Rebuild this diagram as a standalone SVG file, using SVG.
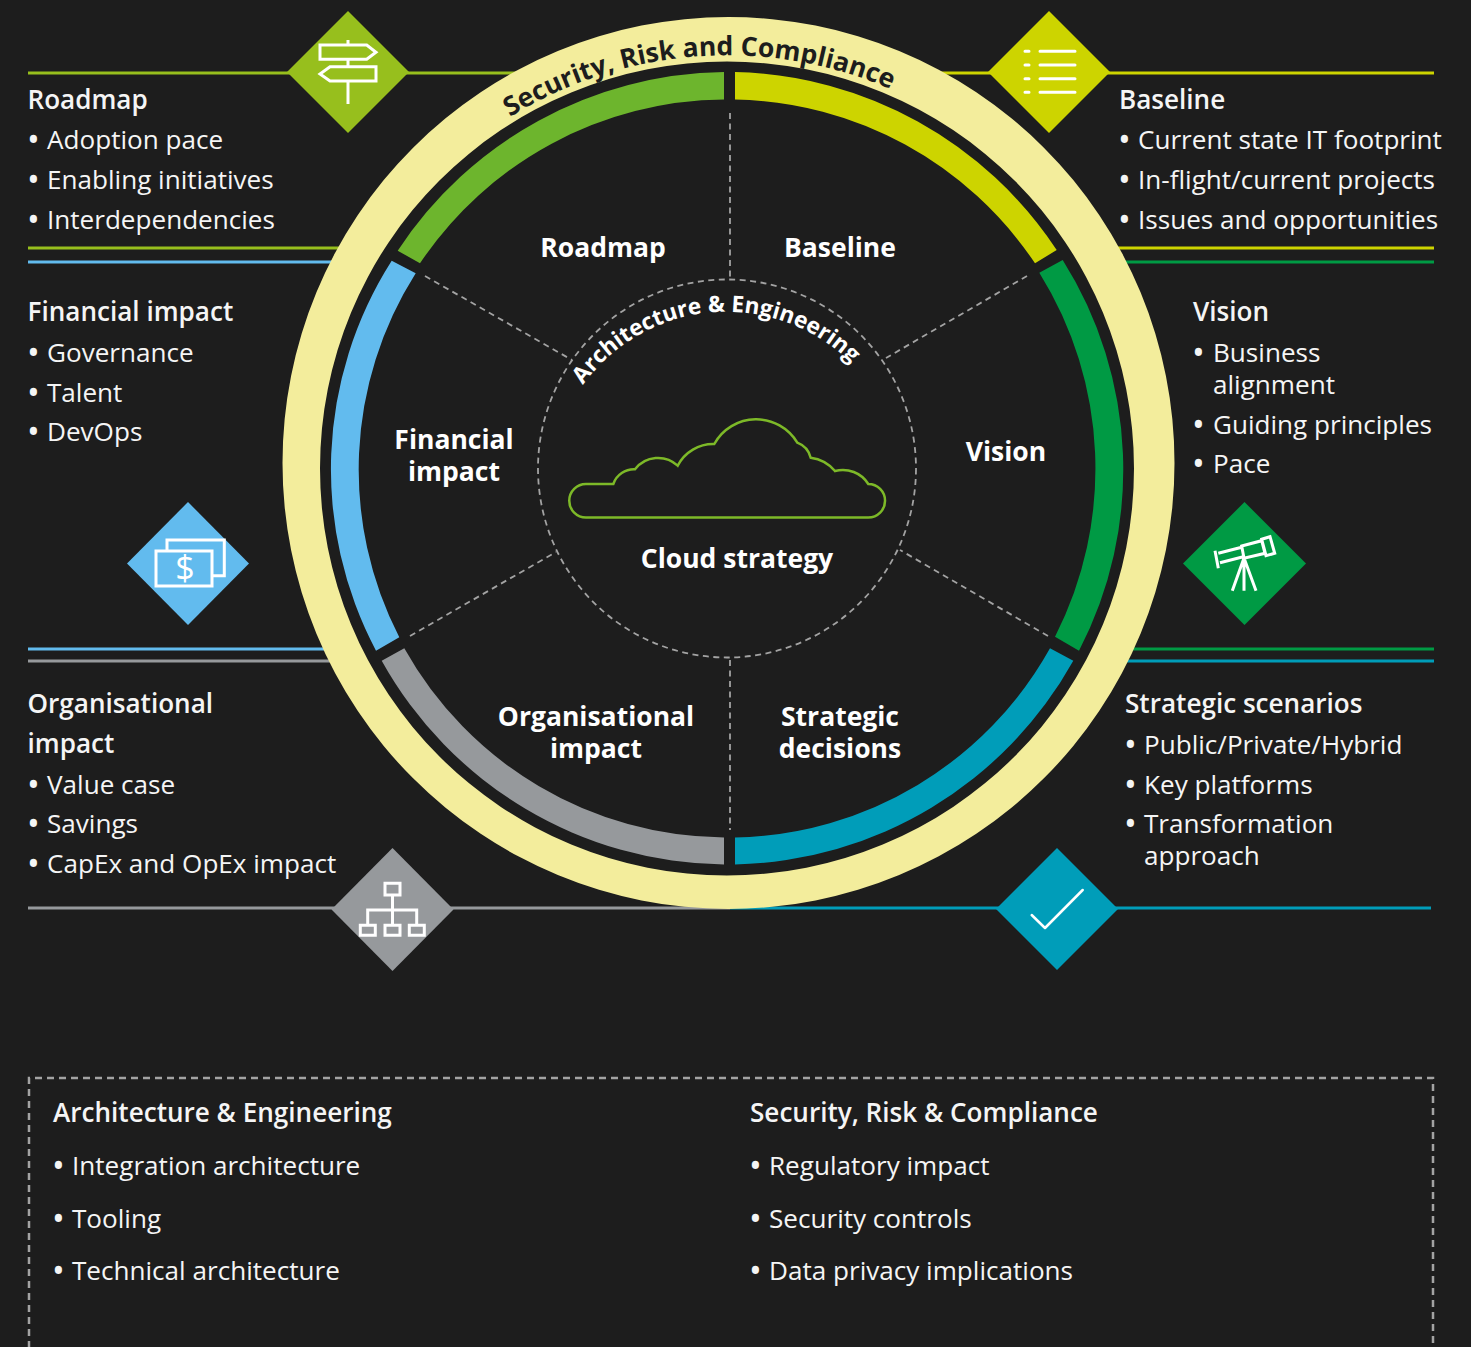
<svg xmlns="http://www.w3.org/2000/svg" width="1471" height="1347" viewBox="0 0 1471 1347">
<style>
text{font-family:"Open Sans","Noto Sans","Liberation Sans",sans-serif;fill:#f5f5f5}
.t{font-size:26.1px}
.b{font-size:34px;baseline-shift:-3px}
.h{font-size:26.1px;font-weight:600}
.c{font-size:26.5px;font-weight:700;text-anchor:middle;fill:#fff}
.i{fill:none;stroke:#fff;stroke-width:3;stroke-linejoin:miter}
.l{fill:none;stroke-width:3}
.d{fill:none;stroke:#a3a3a3;stroke-width:1.8;stroke-dasharray:6 4.5}
</style>
<defs>
<path id="arcOuter" d="M510 117A412.5 412.5 0 0 1 888 88A412.5 412.5 0 0 1 960 130"/>
<path id="arcInner" d="M583 385A177 177 0 0 1 853 365A177 177 0 0 1 880 420"/>
</defs>
<rect width="1471" height="1347" fill="#1d1d1d"/>
<g id="connectors">
<path class="l" stroke="#97bf1d" d="M28 73H520M28 248H345"/>
<path class="l" stroke="#62bbee" d="M28 262H335M28 649H335"/>
<path class="l" stroke="#96999c" d="M28 661H340M28 908H730"/>
<path class="l" stroke="#cdd400" d="M935 73H1434M1110 248H1434"/>
<path class="l" stroke="#009a44" d="M1115 262H1434M1120 649H1434"/>
<path class="l" stroke="#009db9" d="M1120 661H1434M730 908H1431"/>
</g>
<g id="outer-ring">
<path fill="#f3ed9c" fill-rule="evenodd" d="M282.500 463A446 446 0 1 0 1174.500 463A446 446 0 1 0 282.500 463ZM320 468.500A407 407 0 1 1 1134 468.500A407 407 0 1 1 320 468.500Z"/>
<text font-size="26.500" font-weight="700" style="fill:#1d1d1d"><textPath href="#arcOuter">Security, Risk and Compliance</textPath></text>
</g>
<g id="band">
<path fill="#6db52d" d="M397.700 250.700A396.500 396.500 0 0 1 724 72V99.500A369 369 0 0 0 420 263.300Z"/>
<path fill="#cdd400" d="M735 72A396.500 396.500 0 0 1 1056.700 250L1035 263.300A369 369 0 0 0 735 99.500Z"/>
<path fill="#009a44" d="M1062.700 260A392.800 392.800 0 0 1 1079 650.700L1055 636.700A369.800 369.800 0 0 0 1039.300 272.700Z"/>
<path fill="#009db9" d="M1073.300 660.700A396.500 396.500 0 0 1 735 864.500V837.500A369 369 0 0 0 1050 648.300Z"/>
<path fill="#96999c" d="M724 864.500A396.500 396.500 0 0 1 381.700 660.700L404.300 648.300A369 369 0 0 0 724 837.500Z"/>
<path fill="#62bbee" d="M376 650.700A388 388 0 0 1 391.700 260.700L415.700 273.300A366.500 366.500 0 0 0 399.300 637.300Z"/>
</g>
<g id="spokes">
<circle class="d" cx="727" cy="468.500" r="189"/>
<path class="d" d="M730 113V279M730 660V830M425 276L572 360M1027 276L886 358M410 636L556 552M1048 636L900 550"/>
</g>
<g id="center">
<path d="M586 517.500A16.700 16.700 0 0 1 586 484H613.300A22 22 0 0 1 635 469.300A29 29 0 0 1 677.700 465.700A40 40 0 0 1 714.300 444A47.900 47.900 0 0 1 797.300 442.700A22 22 0 0 1 810.700 457.700A38 38 0 0 1 835 471A30 30 0 0 1 868.300 484A16.700 16.700 0 0 1 868.300 517.500Z" fill="none" stroke="#7db928" stroke-width="2.500"/>
<text class="c" x="737" y="568">Cloud strategy</text>
<text font-size="22.700" font-weight="700" style="fill:#fff"><textPath href="#arcInner">Architecture &amp; Engineering</textPath></text>
</g>
<g id="label-roadmap"><text class="c" x="603" y="257">Roadmap</text></g>
<g id="label-baseline"><text class="c" x="840" y="257">Baseline</text></g>
<g id="label-financial"><text class="c"><tspan x="454" y="449">Financial</tspan><tspan x="454" y="481">impact</tspan></text></g>
<g id="label-vision"><text class="c" x="1006" y="461">Vision</text></g>
<g id="label-organisational"><text class="c"><tspan x="596" y="726">Organisational</tspan><tspan x="596" y="758">impact</tspan></text></g>
<g id="label-strategic"><text class="c"><tspan x="840" y="726">Strategic</tspan><tspan x="840" y="758">decisions</tspan></text></g>
<g id="node-roadmap">
<path fill="#97bf1d" d="M348 11L409 72L348 133L287 72Z"/>
<path class="i" d="M348 40V45M348 59.300V66.700M348 81V104M320 45H366.700L376 52.300L366.700 59.300H320ZM376 66.700H330L320 74L330 81H376Z"/>
<text class="h" x="27.500" y="109">Roadmap</text>
<text class="t"><tspan class="b" x="27" y="149">•</tspan><tspan x="47" y="149">Adoption pace</tspan><tspan class="b" x="27" y="189">•</tspan><tspan x="47" y="189">Enabling initiatives</tspan><tspan class="b" x="27" y="229">•</tspan><tspan x="47" y="229">Interdependencies</tspan></text>
</g>
<g id="node-baseline">
<path fill="#cdd400" d="M1049 11L1110 72L1049 133L988 72Z"/>
<path fill="none" stroke="#fff" stroke-width="3" stroke-linecap="round" d="M1025 51.300H1029M1040 51.300H1075M1025 65H1029M1040 65H1075M1025 78.700H1029M1040 78.700H1075M1025 92.300H1029M1040 92.300H1075"/>
<text class="h" x="1119" y="109">Baseline</text>
<text class="t"><tspan class="b" x="1118" y="149">•</tspan><tspan x="1138" y="149">Current state IT footprint</tspan><tspan class="b" x="1118" y="189">•</tspan><tspan x="1138" y="189">In-flight/current projects</tspan><tspan class="b" x="1118" y="229">•</tspan><tspan x="1138" y="229">Issues and opportunities</tspan></text>
</g>
<g id="node-financial">
<path fill="#62bbee" d="M188 502L249 563.500L188 625L127 563.500Z"/>
<path class="i" d="M167 551V540H224.300V575.700H212M156 551H212V586H156Z"/>
<text x="185" y="580" font-size="34" font-weight="400" text-anchor="middle" style="fill:#fff">$</text>
<text class="h" x="27.500" y="321">Financial impact</text>
<text class="t"><tspan class="b" x="27" y="362">•</tspan><tspan x="47" y="362">Governance</tspan><tspan class="b" x="27" y="402">•</tspan><tspan x="47" y="402">Talent</tspan><tspan class="b" x="27" y="441">•</tspan><tspan x="47" y="441">DevOps</tspan></text>
</g>
<g id="node-vision">
<path fill="#009a44" d="M1244.500 502L1306 563.500L1244.500 625L1183 563.500Z"/>
<path class="i" d="M1215 550.700L1218.300 568.300M1218.300 553.300L1241.700 547.300M1220 562.700L1243.300 556.700M1241.700 546L1261.700 540.700L1265 553.300L1244 558.300ZM1261.700 539.300L1270 536.700L1274.700 553.300L1266 555.700ZM1244 558L1232.300 590.700M1244 558V590.700M1244 558L1256 590.700"/>
<text class="h" x="1193" y="321">Vision</text>
<text class="t"><tspan class="b" x="1192" y="362">•</tspan><tspan x="1213" y="362">Business</tspan><tspan x="1213" y="394">alignment</tspan><tspan class="b" x="1192" y="434">•</tspan><tspan x="1213" y="434">Guiding principles</tspan><tspan class="b" x="1192" y="473">•</tspan><tspan x="1213" y="473">Pace</tspan></text>
</g>
<g id="node-organisational">
<path fill="#96999c" d="M392.500 848L453.500 909.500L392.500 971L331.500 909.500Z"/>
<path class="i" d="M385 883.300H400V895H385ZM392.500 895V925.300M367.700 925.300V910H416.700V925.300M360.300 925.300H375.300V935.300H360.300ZM385 925.300H400V935.300H385ZM409.300 925.300H424.300V935.300H409.300Z"/>
<text class="h"><tspan x="27.500" y="713">Organisational</tspan><tspan x="27.500" y="753">impact</tspan></text>
<text class="t"><tspan class="b" x="27" y="794">•</tspan><tspan x="47" y="794">Value case</tspan><tspan class="b" x="27" y="833">•</tspan><tspan x="47" y="833">Savings</tspan><tspan class="b" x="27" y="873">•</tspan><tspan x="47" y="873">CapEx and OpEx impact</tspan></text>
</g>
<g id="node-strategic">
<path fill="#009db9" d="M1057 848L1118 909L1057 970L996 909Z"/>
<path fill="none" stroke="#fff" stroke-width="2.500" stroke-linecap="round" stroke-linejoin="round" d="M1031.700 915L1045 928L1082.700 890"/>
<text class="h" x="1125" y="713">Strategic scenarios</text>
<text class="t"><tspan class="b" x="1124" y="754">•</tspan><tspan x="1144" y="754">Public/Private/Hybrid</tspan><tspan class="b" x="1124" y="794">•</tspan><tspan x="1144" y="794">Key platforms</tspan><tspan class="b" x="1124" y="833">•</tspan><tspan x="1144" y="833">Transformation</tspan><tspan x="1144" y="865">approach</tspan></text>
</g>
<g id="legend">
<path d="M29 1360V1078H1433V1360" fill="none" stroke="#a3a3a3" stroke-width="2.500" stroke-dasharray="7 5"/>
<text class="h" x="53" y="1122">Architecture &amp; Engineering</text>
<text class="t"><tspan class="b" x="52" y="1175">•</tspan><tspan x="72" y="1175">Integration architecture</tspan><tspan class="b" x="52" y="1228">•</tspan><tspan x="72" y="1228">Tooling</tspan><tspan class="b" x="52" y="1280">•</tspan><tspan x="72" y="1280">Technical architecture</tspan></text>
<text class="h" x="750" y="1122">Security, Risk &amp; Compliance</text>
<text class="t"><tspan class="b" x="749" y="1175">•</tspan><tspan x="769" y="1175">Regulatory impact</tspan><tspan class="b" x="749" y="1228">•</tspan><tspan x="769" y="1228">Security controls</tspan><tspan class="b" x="749" y="1280">•</tspan><tspan x="769" y="1280">Data privacy implications</tspan></text>
</g>
</svg>
